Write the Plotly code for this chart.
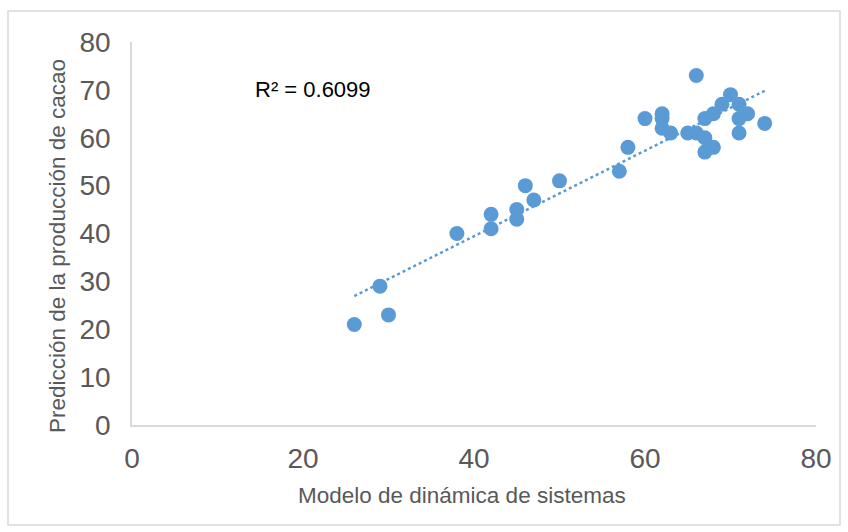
import numpy as np
import plotly.graph_objects as go

modelo = [26, 29, 30, 38, 42, 42, 45, 45, 46, 47, 50, 57, 58, 60, 66, 62, 62, 62, 63, 65, 66,
          67, 68, 67, 67, 68, 69, 70, 71, 71, 72, 71, 74]
prediccion = [21, 29, 23, 40, 44, 41, 45, 43, 50, 47, 51, 53, 58, 64, 73, 65, 64, 62, 61, 61, 61,
              60, 58, 57, 64, 65, 67, 69, 67, 64, 65, 61, 63]
x_ticks = [0, 20, 40, 60, 80]
y_ticks = [0, 10, 20, 30, 40, 50, 60, 70, 80]
r2_label = "R² = 0.6099"
x_title = "Modelo de dinámica de sistemas"
y_title = "Predicción de la producción de cacao"

color = "#5B9BD5"
slope, intercept = np.polyfit(modelo, prediccion, 1)
xmin, xmax = min(modelo), max(modelo)
trend_x = [xmin, xmax]
trend_y = [slope * v + intercept for v in trend_x]

fig = go.Figure()
fig.add_trace(go.Scatter(x=trend_x, y=trend_y, mode="lines",
                         line=dict(color=color, width=2.5, dash="dot"),
                         hoverinfo="skip", showlegend=False))
fig.add_trace(go.Scatter(x=modelo, y=prediccion, mode="markers",
                         marker=dict(color=color, size=15, line=dict(width=0)),
                         showlegend=False))

# plot area in pixels: x 132..816, y 42..425
PW, PH = 684, 383
def px(x):
    return (x - 132) / PW
def py(y):
    return (425 - y) / PH

font_family = "Liberation Sans, Arial, sans-serif"
grey = "#595959"
fig.update_layout(
    width=848, height=532,
    margin=dict(l=132, r=32, t=42, b=107),
    paper_bgcolor="white", plot_bgcolor="white",
    font=dict(family=font_family, color=grey),
    xaxis=dict(range=[0, 80], tickvals=x_ticks, showgrid=False, zeroline=False,
               showline=True, linecolor="#d9d9d9", linewidth=1.5,
               tickfont=dict(size=28, color=grey), ticks="outside", ticklen=8,
               tickcolor="rgba(0,0,0,0)"),
    yaxis=dict(range=[0, 80], tickvals=y_ticks, showgrid=False, zeroline=False,
               showline=True, linecolor="#d9d9d9", linewidth=1.5,
               tickfont=dict(size=28, color=grey), ticks="outside", ticklen=14,
               tickcolor="rgba(0,0,0,0)"),
    annotations=[
        dict(text=r2_label, x=px(253), y=py(90), xref="paper", yref="paper",
             xanchor="left", yanchor="middle", showarrow=False,
             font=dict(size=22, color="#000000", family=font_family)),
        dict(text=x_title, x=px(461.5), y=py(495), xref="paper", yref="paper",
             xanchor="center", yanchor="middle", showarrow=False,
             font=dict(size=22.5, color=grey, family=font_family)),
        dict(text=y_title, x=px(57), y=py(246), xref="paper", yref="paper",
             xanchor="center", yanchor="middle", showarrow=False, textangle=-90,
             font=dict(size=22.5, color=grey, family=font_family)),
    ],
    shapes=[dict(type="rect", xref="paper", yref="paper",
                 x0=px(8), x1=px(840), y0=py(525), y1=py(11),
                 line=dict(color="#d9d9d9", width=1.5), layer="below")],
)
fig.write_html("out.html", config={"displayModeBar": False},
               post_script="document.body.style.margin='0';")
